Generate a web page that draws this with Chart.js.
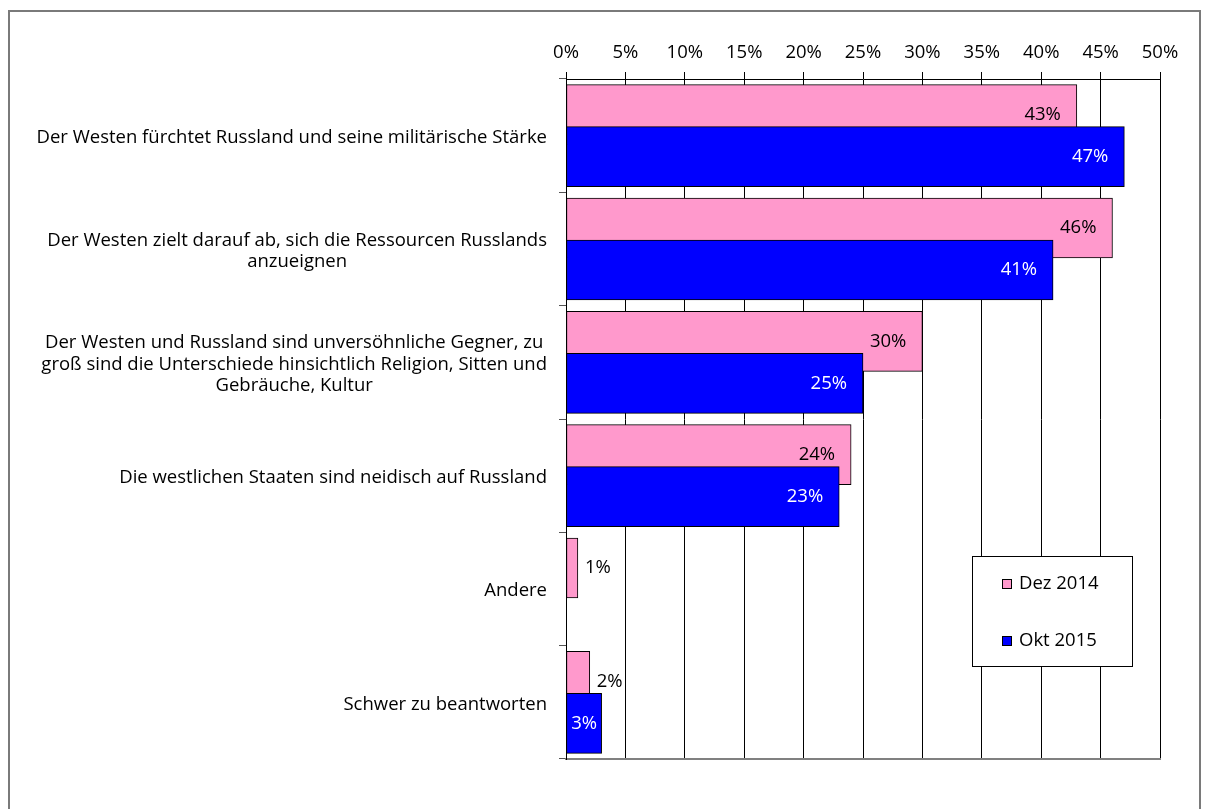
<!DOCTYPE html>
<html>
<head>
<meta charset="utf-8">
<script src="https://cdn.jsdelivr.net/npm/chart.js@4/dist/chart.umd.min.js"></script>
<style>
  html, body { margin: 0; padding: 0; background: #fff; }
  #frame { position: absolute; left: 8px; top: 10px; width: 1193px; height: 900px; border: 2px solid #7a7a7a; box-sizing: border-box; }
  #wrap { position: absolute; left: 0; top: 0; width: 1208px; height: 809px; }
</style>
</head>
<body>
<div id="frame"></div>
<div id="wrap"><canvas id="c" width="1208" height="809"></canvas></div>
<script>
// Survey answers (each label split into its printed lines)
const categories = [
  ['Der Westen fürchtet Russland und seine militärische Stärke'],
  ['Der Westen zielt darauf ab, sich die Ressourcen Russlands', 'anzueignen'],
  ['Der Westen und Russland sind unversöhnliche Gegner, zu', 'groß sind die Unterschiede hinsichtlich Religion, Sitten und', 'Gebräuche, Kultur'],
  ['Die westlichen Staaten sind neidisch auf Russland'],
  ['Andere'],
  ['Schwer zu beantworten']
];
const seriesNames = ['Dez 2014', 'Okt 2015'];
const dez2014 = [43, 46, 30, 24, 1, 2];
const okt2015 = [47, 41, 25, 23, null, 3];
const xTickValues = [0, 5, 10, 15, 20, 25, 30, 35, 40, 45, 50];

const FONT = 'Open Sans';
const FS = 18.5;
const PINK = '#FF99CC';
const BLUE = '#0000FF';
const SHIFT = 0.185; // half the vertical offset between the two overlapping bars

const toPoints = (arr, dy) => arr.map((v, i) => ({ x: v, y: i + dy }));

// Value labels at the bar ends
const valueLabels = {
  id: 'valueLabels',
  afterDatasetsDraw(chart) {
    const ctx = chart.ctx;
    ctx.save();
    ctx.font = FS + 'px "' + FONT + '"';
    ctx.textBaseline = 'middle';
    chart.data.datasets.forEach((ds, di) => {
      const meta = chart.getDatasetMeta(di);
      meta.data.forEach((bar, i) => {
        const v = ds.data[i].x;
        if (v === null || v === undefined) return;
        const txt = v + '%';
        const w = ctx.measureText(txt).width;
        const len = bar.x - bar.base;
        if (ds.label === seriesNames[0]) {
          ctx.fillStyle = '#000';
          if (len > w + 20) { ctx.textAlign = 'right'; ctx.fillText(txt, bar.x - 16, bar.y); }
          else { ctx.textAlign = 'left'; ctx.fillText(txt, bar.x + 7, bar.y); }
        } else {
          ctx.fillStyle = '#fff';
          if (len > w + 20) { ctx.textAlign = 'right'; ctx.fillText(txt, bar.x - 16, bar.y); }
          else { ctx.textAlign = 'center'; ctx.fillText(txt, (bar.x + bar.base) / 2, bar.y); }
        }
      });
    });
    ctx.restore();
  }
};

// Category labels: each block centred on itself, right edge next to the axis
const categoryLabels = {
  id: 'categoryLabels',
  afterDraw(chart) {
    const ctx = chart.ctx;
    const ys = chart.scales.y;
    const right = ys.right - 19;
    const lh = 21.5;
    ctx.save();
    ctx.font = FS + 'px "' + FONT + '"';
    ctx.fillStyle = '#000';
    ctx.textAlign = 'center';
    ctx.textBaseline = 'middle';
    categories.forEach((lines, i) => {
      const cy = ys.getPixelForValue(i) + 2;
      const maxW = Math.max(...lines.map(l => ctx.measureText(l).width));
      const cx = right - maxW / 2;
      const y0 = cy - (lines.length - 1) * lh / 2;
      lines.forEach((l, k) => ctx.fillText(l, cx, y0 + k * lh));
    });
    ctx.restore();
  }
};

// Boxed legend inside the plot
const boxLegend = {
  id: 'boxLegend',
  afterDraw(chart) {
    const ctx = chart.ctx;
    const bx = 972, by = 556, bw = 160, bh = 110;
    ctx.save();
    ctx.fillStyle = '#fff';
    ctx.fillRect(bx, by, bw, bh);
    ctx.strokeStyle = '#000';
    ctx.lineWidth = 1;
    ctx.strokeRect(bx + 0.5, by + 0.5, bw, bh);
    ctx.font = FS + 'px "' + FONT + '"';
    ctx.textAlign = 'left';
    ctx.textBaseline = 'middle';
    chart.data.datasets.slice().sort((a, b) => b.order - a.order).forEach((ds, k) => {
      const cy = by + 28 + k * 57;
      ctx.fillStyle = ds.backgroundColor;
      ctx.fillRect(bx + 30, cy - 5, 10, 10);
      ctx.strokeRect(bx + 30.5, cy - 4.5, 9, 9);
      ctx.fillStyle = '#000';
      ctx.fillText(ds.label, bx + 47, cy);
    });
    ctx.restore();
  }
};

new Chart(document.getElementById('c'), {
  type: 'bar',
  data: {
    datasets: [
      { label: seriesNames[0], data: toPoints(dez2014, -SHIFT), backgroundColor: PINK, borderColor: '#000', borderWidth: 1, borderSkipped: false, stack: 'one', order: 2, barThickness: 60 },
      { label: seriesNames[1], data: toPoints(okt2015, SHIFT), backgroundColor: BLUE, borderColor: '#000', borderWidth: 1, borderSkipped: false, stack: 'one', order: 1, barThickness: 60 }
    ]
  },
  options: {
    indexAxis: 'y',
    responsive: false,
    animation: false,
    layout: { padding: { left: 0, top: 0, right: 48, bottom: 50 } },
    plugins: { legend: { display: false }, tooltip: { enabled: false } },
    scales: {
      x: {
        type: 'linear', position: 'top', min: 0, max: 50, stacked: false, offset: false,
        afterBuildTicks: s => { s.ticks = xTickValues.map(v => ({ value: v })); },
        afterFit: s => { s.height = 79; },
        ticks: { callback: v => v + '%', color: '#000', font: { family: FONT, size: FS }, padding: 8, maxRotation: 0, autoSkip: false },
        grid: { color: '#000', lineWidth: 1, tickLength: 7, tickColor: '#000' },
        border: { color: '#000', width: 1 }
      },
      xb: {
        type: 'linear', position: 'bottom', axis: 'x', min: 0, max: 50, offset: false,
        afterFit: s => { s.height = 0; },
        ticks: { display: false },
        grid: { display: false },
        border: { color: '#808080', width: 2 }
      },
      y: {
        type: 'linear', reverse: true, min: -0.5, max: 5.5, offset: false,
        afterBuildTicks: s => { s.ticks = categories.map((_, i) => ({ value: i })); },
        afterFit: s => { s.width = 566; },
        ticks: { display: false },
        grid: { offset: true, drawOnChartArea: false, tickLength: 7, color: '#555' },
        border: { color: '#000', width: 1 }
      }
    }
  },
  plugins: [valueLabels, categoryLabels, boxLegend]
});
</script>
</body>
</html>
